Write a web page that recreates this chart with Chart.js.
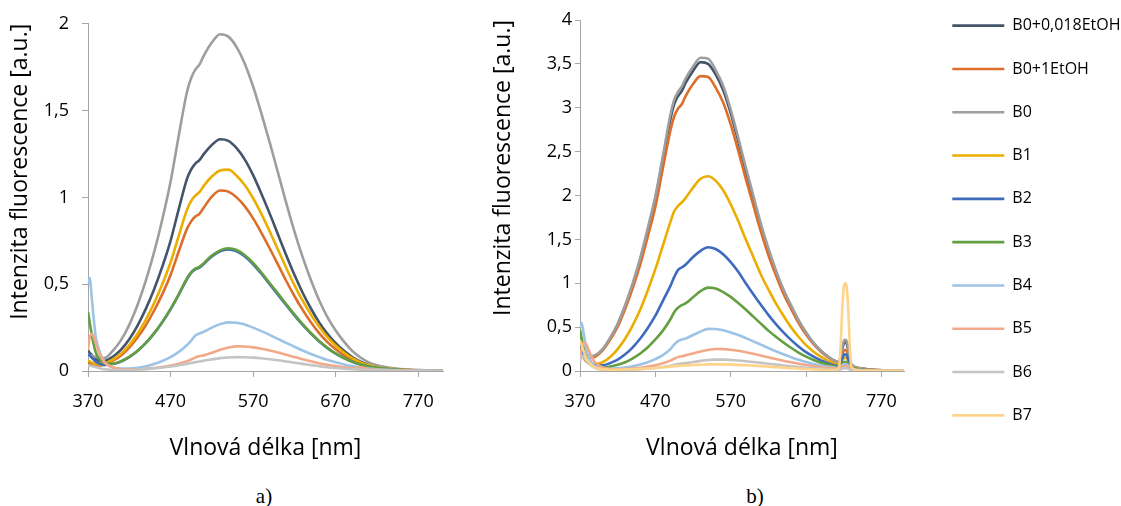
<!DOCTYPE html>
<html>
<head>
<meta charset="utf-8">
<script src="https://cdn.jsdelivr.net/npm/chart.js@4.4.1/dist/chart.umd.min.js"></script>
<style>
  html, body { margin: 0; padding: 0; background: #fff; overflow: hidden; }
  #page { position: relative; width: 1121px; height: 506px; overflow: hidden; }
  canvas { position: absolute; }
  #chartA { left: 0; top: 0; }
  #chartB { left: 470px; top: 0; }
  #legend { left: 925px; top: -15px; }
  .cap { position: absolute; font-family: "Liberation Serif", serif; font-size: 21px; color: #000; transform: translate(-50%, -50%); }
</style>
</head>
<body>
<div id="page">
  <canvas id="chartA" width="470" height="470"></canvas>
  <canvas id="chartB" width="460" height="470"></canvas>
  <canvas id="legend" width="500" height="471"></canvas>
  <div class="cap" style="left:264px; top:496px">a)</div>
  <div class="cap" style="left:755px; top:496px">b)</div>
</div>
<script>
// Series names / colours (shared legend)
const seriesNames = ["B0+0,018EtOH", "B0+1EtOH", "B0", "B1", "B2", "B3", "B4", "B5", "B6", "B7"];
const seriesColors = ["#44546A", "#DD6E2A", "#9E9E9E", "#EBAE00", "#3F6BBF", "#639F40", "#9DC3E6", "#F2A98A", "#C4C4C4", "#FFD489"];
const xTicks = [370, 470, 570, 670, 770];

// Chart a) wavelengths [nm]
const wlA = [370, 372, 375, 378, 380, 385, 390, 400, 410, 420, 430, 440, 450, 460, 470, 480, 490, 495, 500, 505,
  510, 520, 530, 540, 550, 560, 570, 580, 590, 600, 610, 620, 630, 640, 650, 660, 670, 680, 690, 700,
  710, 720, 740, 760, 780, 800];

const aNavy = [0.12, 0.105, 0.09, 0.075, 0.068, 0.058, 0.058, 0.082, 0.123, 0.183, 0.262, 0.358, 0.47, 0.601, 0.75,
  0.934, 1.108, 1.161, 1.195, 1.215, 1.248, 1.302, 1.335, 1.326, 1.284, 1.218, 1.128, 1.021, 0.908, 0.788,
  0.668, 0.554, 0.451, 0.36, 0.28, 0.214, 0.16, 0.116, 0.08, 0.053, 0.035, 0.023, 0.011, 0.005, 0.003, 0.001];
const aOrange = [0.05, 0.045, 0.04, 0.035, 0.033, 0.032, 0.036, 0.058, 0.09, 0.135, 0.193, 0.263, 0.347, 0.443, 0.553,
  0.69, 0.82, 0.862, 0.89, 0.905, 0.94, 1.005, 1.04, 1.033, 1.0, 0.948, 0.879, 0.796, 0.707, 0.614,
  0.52, 0.432, 0.352, 0.281, 0.218, 0.166, 0.125, 0.09, 0.062, 0.042, 0.027, 0.018, 0.008, 0.004, 0.002, 0.001];
const aGrey = [0.10, 0.093, 0.087, 0.083, 0.08, 0.076, 0.075, 0.116, 0.178, 0.266, 0.38, 0.52, 0.683, 0.873, 1.09,
  1.358, 1.61, 1.688, 1.736, 1.765, 1.814, 1.892, 1.94, 1.926, 1.866, 1.769, 1.639, 1.484, 1.319, 1.145,
  0.97, 0.805, 0.656, 0.524, 0.407, 0.31, 0.233, 0.169, 0.116, 0.078, 0.05, 0.033, 0.016, 0.008, 0.004, 0.002];
const aGold = [0.06, 0.055, 0.048, 0.042, 0.04, 0.038, 0.044, 0.066, 0.1, 0.15, 0.215, 0.295, 0.39, 0.5, 0.625,
  0.78, 0.93, 0.98, 1.01, 1.03, 1.065, 1.12, 1.155, 1.16, 1.125, 1.07, 0.995, 0.905, 0.805, 0.70,
  0.595, 0.495, 0.405, 0.325, 0.255, 0.195, 0.147, 0.107, 0.074, 0.05, 0.033, 0.022, 0.011, 0.005, 0.003, 0.001];
const aBlue = [0.10, 0.09, 0.075, 0.06, 0.052, 0.04, 0.035, 0.04, 0.055, 0.08, 0.115, 0.16, 0.215, 0.28, 0.355,
  0.44, 0.53, 0.565, 0.585, 0.595, 0.615, 0.66, 0.69, 0.70, 0.69, 0.66, 0.615, 0.56, 0.50, 0.44,
  0.38, 0.32, 0.265, 0.215, 0.17, 0.132, 0.10, 0.074, 0.053, 0.037, 0.025, 0.017, 0.008, 0.004, 0.002, 0.001];
const aGreen = [0.34, 0.28, 0.20, 0.13, 0.10, 0.06, 0.045, 0.042, 0.056, 0.081, 0.116, 0.162, 0.218, 0.283, 0.358,
  0.443, 0.535, 0.57, 0.59, 0.60, 0.62, 0.665, 0.695, 0.707, 0.697, 0.667, 0.622, 0.567, 0.507, 0.447,
  0.386, 0.326, 0.27, 0.219, 0.173, 0.134, 0.101, 0.075, 0.054, 0.038, 0.026, 0.018, 0.009, 0.004, 0.002, 0.001];
const aLightBlue = [0.50, 0.535, 0.40, 0.25, 0.18, 0.10, 0.05, 0.02, 0.014, 0.014, 0.018, 0.027, 0.04, 0.058, 0.08,
  0.11, 0.15, 0.175, 0.205, 0.216, 0.225, 0.25, 0.27, 0.28, 0.278, 0.268, 0.25, 0.23, 0.208, 0.185,
  0.162, 0.14, 0.118, 0.098, 0.08, 0.063, 0.05, 0.038, 0.028, 0.02, 0.014, 0.01, 0.005, 0.003, 0.002, 0.001];
const aSalmon = [0.12, 0.19, 0.215, 0.18, 0.15, 0.09, 0.05, 0.022, 0.012, 0.01, 0.01, 0.013, 0.017, 0.023, 0.031,
  0.042, 0.056, 0.066, 0.078, 0.085, 0.09, 0.105, 0.122, 0.135, 0.142, 0.141, 0.136, 0.128, 0.118, 0.106,
  0.093, 0.08, 0.068, 0.056, 0.045, 0.036, 0.028, 0.021, 0.016, 0.022, 0.01, 0.007, 0.004, 0.002, 0.001, 0.001];
const aLightGrey = [0.03, 0.03, 0.028, 0.025, 0.022, 0.015, 0.01, 0.006, 0.005, 0.006, 0.008, 0.011, 0.015, 0.02, 0.026,
  0.033, 0.041, 0.046, 0.051, 0.055, 0.059, 0.067, 0.074, 0.078, 0.08, 0.079, 0.077, 0.073, 0.068, 0.062,
  0.055, 0.048, 0.041, 0.034, 0.028, 0.022, 0.017, 0.013, 0.01, 0.008, 0.006, 0.004, 0.002, 0.001, 0.001, 0];

// Chart b) wavelengths [nm] - denser around the 722 nm peak
const wlB = [370, 372, 375, 378, 380, 385, 390, 400, 410, 420, 430, 440, 450, 460, 470, 480, 490, 495, 500, 505,
  510, 520, 530, 540, 550, 560, 570, 580, 590, 600, 610, 620, 630, 640, 650, 660, 670, 680, 690, 700,
  710, 714, 716, 718, 720, 722, 724, 726, 728, 730, 740, 760, 780, 800];

const bNavy = [0.25, 0.21, 0.18, 0.165, 0.16, 0.16, 0.17, 0.245, 0.37, 0.53, 0.74, 0.985, 1.27, 1.6, 1.96,
  2.41, 2.87, 3.04, 3.13, 3.19, 3.28, 3.42, 3.52, 3.5, 3.38, 3.2, 2.94, 2.62, 2.28, 1.96,
  1.64, 1.36, 1.12, 0.92, 0.74, 0.575, 0.435, 0.315, 0.225, 0.157, 0.108, 0.1, 0.16, 0.25, 0.31,
  0.33, 0.31, 0.24, 0.14, 0.075, 0.034, 0.015, 0.007, 0.004];
const bOrange = [0.2, 0.18, 0.16, 0.15, 0.15, 0.15, 0.16, 0.235, 0.355, 0.505, 0.71, 0.945, 1.215, 1.535, 1.87,
  2.31, 2.74, 2.9, 2.99, 3.04, 3.13, 3.27, 3.36, 3.35, 3.23, 3.06, 2.81, 2.51, 2.19, 1.89,
  1.59, 1.32, 1.09, 0.88, 0.71, 0.55, 0.415, 0.305, 0.22, 0.152, 0.104, 0.095, 0.13, 0.19, 0.23,
  0.24, 0.23, 0.18, 0.11, 0.07, 0.032, 0.014, 0.007, 0.003];
const bGrey = [0.3, 0.25, 0.2, 0.18, 0.175, 0.17, 0.18, 0.25, 0.376, 0.537, 0.752, 1.0, 1.29, 1.63, 1.99,
  2.45, 2.92, 3.09, 3.18, 3.24, 3.33, 3.47, 3.57, 3.56, 3.43, 3.25, 2.98, 2.66, 2.32, 2.0,
  1.68, 1.4, 1.15, 0.93, 0.75, 0.58, 0.44, 0.32, 0.23, 0.16, 0.11, 0.1, 0.17, 0.27, 0.34,
  0.355, 0.34, 0.26, 0.15, 0.08, 0.035, 0.015, 0.007, 0.004];
const bGold = [0.3, 0.22, 0.15, 0.11, 0.1, 0.085, 0.08, 0.1, 0.16, 0.25, 0.37, 0.52, 0.7, 0.92, 1.16,
  1.43, 1.7, 1.82, 1.88, 1.92, 1.97, 2.09, 2.19, 2.22, 2.17, 2.06, 1.9, 1.71, 1.5, 1.3,
  1.1, 0.93, 0.77, 0.63, 0.5, 0.39, 0.295, 0.22, 0.16, 0.113, 0.078, 0.07, 0.09, 0.125, 0.145,
  0.15, 0.145, 0.12, 0.08, 0.055, 0.025, 0.011, 0.005, 0.003];
const bBlue = [0.32, 0.25, 0.17, 0.12, 0.1, 0.075, 0.065, 0.065, 0.09, 0.13, 0.19, 0.27, 0.37, 0.49, 0.63,
  0.8, 0.97, 1.07, 1.15, 1.18, 1.21, 1.3, 1.37, 1.41, 1.39, 1.33, 1.24, 1.13, 1.0, 0.875,
  0.755, 0.64, 0.535, 0.44, 0.355, 0.28, 0.215, 0.163, 0.12, 0.086, 0.06, 0.056, 0.09, 0.14, 0.18,
  0.19, 0.18, 0.13, 0.075, 0.045, 0.02, 0.009, 0.004, 0.002];
const bGreen = [0.47, 0.38, 0.25, 0.16, 0.12, 0.07, 0.05, 0.04, 0.05, 0.07, 0.1, 0.145, 0.2, 0.27, 0.36,
  0.46, 0.59, 0.67, 0.72, 0.75, 0.77, 0.84, 0.91, 0.95, 0.94, 0.9, 0.845, 0.775, 0.7, 0.62,
  0.54, 0.46, 0.39, 0.325, 0.265, 0.21, 0.164, 0.125, 0.093, 0.068, 0.049, 0.046, 0.06, 0.08, 0.1,
  0.105, 0.1, 0.08, 0.055, 0.035, 0.016, 0.007, 0.003, 0.002];
const bLightBlue = [0.5, 0.55, 0.42, 0.27, 0.2, 0.1, 0.055, 0.03, 0.025, 0.03, 0.04, 0.055, 0.075, 0.1, 0.135,
  0.18, 0.25, 0.3, 0.34, 0.36, 0.37, 0.41, 0.45, 0.48, 0.478, 0.465, 0.44, 0.41, 0.375, 0.338,
  0.3, 0.262, 0.225, 0.19, 0.158, 0.128, 0.103, 0.081, 0.063, 0.048, 0.036, 0.034, 0.045, 0.062, 0.077,
  0.08, 0.075, 0.06, 0.04, 0.027, 0.013, 0.006, 0.003, 0.002];
const bSalmon = [0.15, 0.25, 0.32, 0.31, 0.27, 0.17, 0.1, 0.04, 0.022, 0.02, 0.022, 0.028, 0.037, 0.05, 0.066,
  0.088, 0.118, 0.14, 0.158, 0.168, 0.178, 0.2, 0.222, 0.24, 0.25, 0.249, 0.242, 0.23, 0.214, 0.196,
  0.176, 0.156, 0.136, 0.117, 0.099, 0.083, 0.068, 0.055, 0.044, 0.035, 0.027, 0.026, 0.035, 0.046, 0.056,
  0.06, 0.056, 0.045, 0.03, 0.02, 0.01, 0.005, 0.002, 0.001];
const bLightGrey = [0.1, 0.18, 0.16, 0.12, 0.1, 0.06, 0.035, 0.015, 0.01, 0.01, 0.012, 0.016, 0.021, 0.028, 0.036,
  0.046, 0.06, 0.07, 0.079, 0.085, 0.09, 0.103, 0.115, 0.125, 0.13, 0.13, 0.126, 0.12, 0.112, 0.103,
  0.093, 0.083, 0.073, 0.063, 0.054, 0.045, 0.037, 0.03, 0.024, 0.019, 0.015, 0.015, 0.019, 0.025, 0.031,
  0.033, 0.031, 0.024, 0.017, 0.012, 0.006, 0.003, 0.001, 0.001];
const bLightGold = [0.35, 0.3, 0.22, 0.15, 0.12, 0.07, 0.04, 0.02, 0.015, 0.015, 0.017, 0.02, 0.024, 0.029, 0.035,
  0.042, 0.05, 0.054, 0.058, 0.061, 0.064, 0.068, 0.072, 0.075, 0.076, 0.075, 0.073, 0.07, 0.066, 0.061,
  0.056, 0.05, 0.044, 0.038, 0.033, 0.028, 0.023, 0.019, 0.015, 0.012, 0.01, 0.05, 0.3, 0.7, 0.95,
  1.0, 0.95, 0.7, 0.3, 0.05, 0.006, 0.003, 0.002, 0.001];

Chart.defaults.font.family = "'Open Sans', sans-serif";
Chart.defaults.color = "#000";

const AXIS_GREY = "#A6A6A6";

// later series are drawn on top, like in the original
function makeDatasets(wl, seriesList) {
  return seriesList
    .map((vals, i) => vals && {
      label: seriesNames[i],
      data: wl.map((x, k) => ({ x: x, y: vals[k] })),
      borderColor: seriesColors[i],
      backgroundColor: seriesColors[i],
      borderWidth: 2.6,
      pointRadius: 0,
      fill: false,
      cubicInterpolationMode: "monotone",
      order: 10 - i,
    })
    .filter(Boolean);
}

function makeOptions(cfg) {
  return {
    responsive: false,
    animation: false,
    events: [],
    layout: { padding: { top: 20, right: cfg.rightPad, left: 0, bottom: 0 } },
    plugins: { legend: { display: false }, tooltip: { enabled: false } },
    scales: {
      x: {
        type: "linear",
        min: 370,
        max: 800,
        afterBuildTicks: (axis) => { axis.ticks = xTicks.map((v) => ({ value: v })); },
        afterFit: (s) => { s.height = 99; },
        ticks: { font: { size: 18 }, padding: 14, color: "#000", maxRotation: 0, autoSkip: false,
          callback: (v) => String(v) },
        grid: { drawOnChartArea: false, tickLength: 6, color: AXIS_GREY },
        border: { color: AXIS_GREY },
        title: { display: true, text: "Vlnová délka [nm]", font: { size: 23 }, color: "#000",
          padding: { top: 0, bottom: 8 } },
      },
      y: {
        min: 0,
        max: cfg.yMax,
        afterFit: (s) => { s.width = cfg.yWidth; },
        ticks: { stepSize: 0.5, font: { size: 18 }, padding: cfg.yLabelPad, color: "#000",
          callback: (v) => String(v).replace(".", ",") },
        grid: { drawOnChartArea: false, tickLength: cfg.yTickLen, color: AXIS_GREY },
        border: { color: AXIS_GREY },
        title: { display: true, text: "Intenzita fluorescence [a.u.]", align: "end", font: { size: 23 },
          color: "#000", padding: { top: cfg.yTitlePad, bottom: 0 } },
      },
    },
  };
}

// a)
new Chart(document.getElementById("chartA"), {
  type: "line",
  data: { datasets: makeDatasets(wlA, [aNavy, aOrange, aGrey, aGold, aBlue, aGreen, aLightBlue, aSalmon, aLightGrey, null]) },
  options: makeOptions({ yMax: 2, yWidth: 88, yLabelPad: 13, yTickLen: 6, yTitlePad: 7, rightPad: 27 }),
});

// b)
new Chart(document.getElementById("chartB"), {
  type: "line",
  data: { datasets: makeDatasets(wlB, [bNavy, bOrange, bGrey, bGold, bBlue, bGreen, bLightBlue, bSalmon, bLightGrey, bLightGold]) },
  options: makeOptions({ yMax: 4, yWidth: 110, yLabelPad: 3, yTickLen: 5, yTitlePad: 20, rightPad: 26 }),
});

// shared legend
new Chart(document.getElementById("legend"), {
  type: "line",
  data: {
    datasets: seriesNames.map((name, i) => ({
      label: name, data: [], borderColor: seriesColors[i], backgroundColor: seriesColors[i], borderWidth: 2.6,
    })),
  },
  options: {
    responsive: false,
    animation: false,
    events: [],
    layout: { padding: 0 },
    scales: { x: { display: false }, y: { display: false } },
    plugins: {
      tooltip: { enabled: false },
      legend: {
        position: "left",
        align: "center",
        maxWidth: 300,
        labels: { usePointStyle: true, pointStyle: "line", pointStyleWidth: 52, padding: 27.3,
          color: "#000", font: { size: 16 } },
      },
    },
  },
});
</script>
</body>
</html>
